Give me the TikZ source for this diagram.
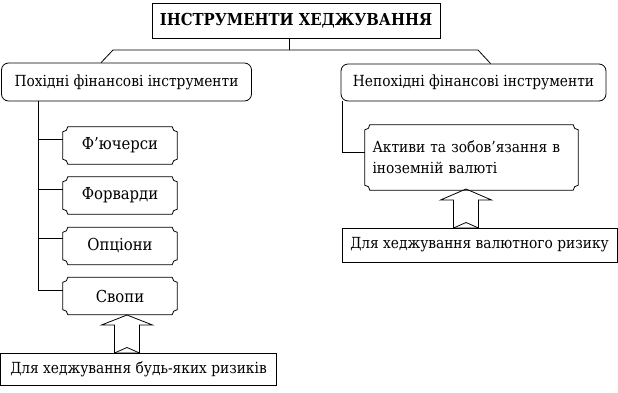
\documentclass[tikz,border=0pt]{standalone}
\usepackage{fontspec}
\setmainfont{DejaVu Serif Condensed}
\usetikzlibrary{calc}
\newcommand\notchr{5pt}
\newcommand\notchbox[1]{%
  \draw[boxline] ($(#1.north west)+(\notchr,0)$) -- ($(#1.north east)+(-\notchr,0)$)
    arc[start angle=180,end angle=270,radius=\notchr]
    -- ($(#1.south east)+(0,\notchr)$)
    arc[start angle=90,end angle=180,radius=\notchr]
    -- ($(#1.south west)+(\notchr,0)$)
    arc[start angle=0,end angle=90,radius=\notchr]
    -- ($(#1.north west)+(0,-\notchr)$)
    arc[start angle=270,end angle=360,radius=\notchr] -- cycle;}
% hollow block arrow: #1 tip, #2 shaft length below head, #3 head length
\newcommand\hollowarrow[3]{%
  \draw[boxline] (#1) -- ++(25.5,-#3) -- ++(-13,0) -- ++(0,-#2)
    -- ++(-25,0) -- ++(0,#2) -- ++(-13,0) -- cycle;
  \draw[boxline] ($(#1)+(-12.5,-#3-#2)$) -- ($(#1)+(0,-#3-#2+5.5)$) -- ($(#1)+(12.5,-#3-#2)$);}
\tikzset{
  x=1pt, y=1pt,
  boxline/.style={line width=0.8pt, line join=miter},
  txt/.style={font=\fontsize{15.3}{21}\selectfont, inner sep=0pt, align=center},
  bigtxt/.style={font=\fontsize{16.5}{21}\selectfont},
  plainbox/.style={txt, draw, boxline},
  roundbox/.style={txt, draw, boxline, rounded corners=7pt},
  notchnode/.style={txt, bigtxt, minimum width=114pt, minimum height=37pt},
  conn/.style={line width=0.8pt},
}
\begin{document}
\begin{tikzpicture}
\useasboundingbox (0,0) rectangle (618,-392);
\node[plainbox, minimum width=288pt, minimum height=35pt, font=\fontsize{16.5}{21}\selectfont\bfseries] (title) at (296,-20.5) {ІНСТРУМЕНТИ ХЕДЖУВАННЯ};
\node[roundbox, minimum width=250pt, minimum height=38pt] (left) at (126.5,-82) {Похідні фінансові інструменти};
\node[roundbox, minimum width=265pt, minimum height=37pt] (right) at (473.5,-82.5) {Непохідні фінансові інструменти};
\node[notchnode] (fut) at (120,-145.5) {Ф’ючерси};
\node[notchnode] (fwd) at (120,-195.5) {Форварди};
\node[notchnode] (opt) at (120,-246) {Опціони};
\node[notchnode] (swp) at (120,-296) {Свопи};
\notchbox{fut}\notchbox{fwd}\notchbox{opt}\notchbox{swp}
\node[txt, minimum width=213pt, minimum height=65pt, align=left, text width=198pt] (act) at (471.5,-157.5) {Активи та зобов’язання в\\іноземній валюті};
\notchbox{act}
\node[plainbox, minimum width=275pt, minimum height=34pt] (riskv) at (479.5,-245) {Для хеджування валютного ризику};
\node[plainbox, minimum width=276pt, minimum height=32pt] (riska) at (138.5,-369) {Для хеджування будь-яких ризиків};
% connectors
\coordinate (tj) at (289,-50);
\coordinate (hl) at (113,-50);
\coordinate (hr) at (478,-50);
\draw[conn] (title.south -| tj) -- (tj);
\draw[conn] ([xshift=100pt]left.north west) -- (hl) -- (hr) -- ([xshift=150pt]right.north west);
\coordinate (ls) at (38,-101);
\draw[conn] ([yshift=6pt]swp.west) -| (ls);
\draw[conn] ([yshift=6.5pt]fut.west) -| (ls);
\draw[conn] ([yshift=6.5pt]fwd.west) -| (ls);
\draw[conn] ([yshift=8pt]opt.west) -| (ls);
\coordinate (rs) at (342,-101);
\draw[conn] ([yshift=5.5pt]act.west) -| (rs);
% arrows
\coordinate (la) at (127,-315);
\hollowarrow{la}{28}{10}
\coordinate (ra) at (466,-189);
\hollowarrow{ra}{28}{11}
\end{tikzpicture}
\end{document}
